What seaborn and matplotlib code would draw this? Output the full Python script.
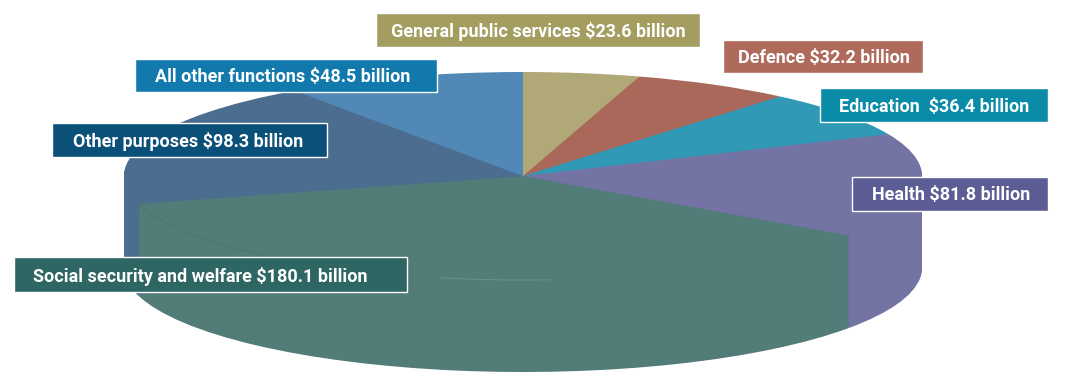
import matplotlib
matplotlib.use("Agg")
import matplotlib.pyplot as plt
from matplotlib.patches import Arc, Rectangle
import numpy as np
import seaborn as sns

# Budget figures, in billions, clockwise from 12 o'clock
functions = ['General public services', 'Defence', 'Education', 'Health',
             'Social security and welfare', 'Other purposes', 'All other functions']
spending = [23.6, 32.2, 36.4, 81.8, 180.1, 98.3, 48.5]
label_text = ['General public services $23.6 billion', 'Defence $32.2 billion',
              'Education  $36.4 billion', 'Health $81.8 billion',
              'Social security and welfare $180.1 billion',
              'Other purposes $98.3 billion', 'All other functions $48.5 billion']

slice_colors = ['#B0A876', '#A9685A', '#2F99B6', '#7373A4', '#517C78', '#4A6D90', '#5188B6']
box_colors = ['#A39D60', '#AF6A5C', '#0A8BA8', '#5D5D95', '#2E6664', '#0B5079', '#1179AB']

# box left, top, right, bottom and text start, in pixels from the top left
box_px = [(376, 13, 700, 47, 391), (723, 40, 923, 73, 738), (820, 88, 1048, 122, 839),
          (852, 177, 1048, 211, 872), (14, 257, 407, 292, 33),
          (52, 123, 327, 157, 73), (135, 59, 437, 92, 155)]

W, H = 1073, 378
cx, cy = 523, 176      # centre of the top face
rx, ry = 399, 104      # radii of the top face
depth = 92             # height of the wall

sns.set_theme(style='white')
plt.rcParams['font.family'] = ['Roboto', 'DejaVu Sans']

fig, ax = plt.subplots(figsize=(W / 100, H / 100), dpi=100)
ax.set_position([0, 0, 1, 1])

# stack one pie per pixel of wall, the last one is the top face
palette = sns.color_palette(slice_colors)
for offset in np.arange(depth, -1, -1):
    ax.pie(spending, colors=palette, startangle=90, counterclock=False,
           center=(0, -offset / ry), wedgeprops={'linewidth': 0})

# the pie is squashed by the axes limits, not by a perspective
ax.set_aspect('auto')
ax.set_xlim(-cx / rx, (W - cx) / rx)
ax.set_ylim(-(H - cy) / ry, cy / ry)

# faint traces of the top face rim showing through the social security slice
social_end = 90 - 360 * sum(spending[:5]) / sum(spending)
ax.add_patch(Arc((0, 0), 2, 2, theta1=social_end + 360, theta2=232,
                 color='#3F6B67', alpha=0.35, linewidth=0.8))
ax.add_patch(Arc((0, 0), 2, 2, theta1=258, theta2=274,
                 color='#7FA3A0', alpha=0.5, linewidth=0.8))

for label, color, (x0, y0, x1, y1, tx) in zip(label_text, box_colors, box_px):
    fig.add_artist(Rectangle((x0 / W, 1 - y1 / H), (x1 - x0) / W, (y1 - y0) / H,
                             transform=fig.transFigure, facecolor=color,
                             edgecolor='white', linewidth=1))
    fig.text(tx / W, 1 - ((y0 + y1) / 2 - 0.5) / H, label, color='white', fontsize=13,
             fontweight='bold', ha='left', va='center_baseline')

fig.savefig('out.png', dpi=100)
